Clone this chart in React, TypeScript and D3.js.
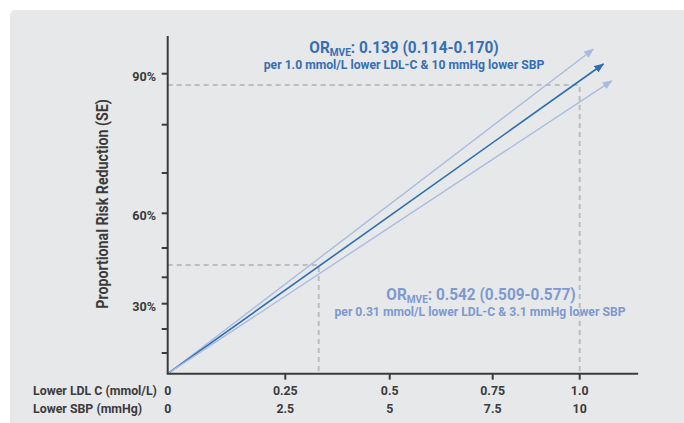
import React from "react";
import * as d3 from "d3";

// ---- data ----
const ldlTicks = [0, 0.25, 0.5, 0.75, 1.0];
const ldlTickLabels = ["0", "0.25", "0.5", "0.75", "1.0"];
const sbpTickLabels = ["0", "2.5", "5", "7.5", "10"];
const rrTicks = [10, 20, 30, 40, 50, 60, 70, 80, 90];
const rrLabeledTicks = [30, 60, 90];
const rrTickLabels = ["30%", "60%", "90%"];

// arrow end points (ldl, risk reduction %), all starting at origin
const arrowNames = ["upper", "central", "lower"];
const arrowLdl = [1.039, 1.068, 1.092];
const arrowRR = [94.8, 91.9, 88.6];

// reference (dashed) points on the central line
const refLdl = [0.33, 1.0];
const refRR = [44.2, 87.8];

const orTop = { value: "0.139", ci: "0.114-0.170", per: "per 1.0 mmol/L lower LDL-C & 10 mmHg lower SBP" };
const orBottom = { value: "0.542", ci: "0.509-0.577", per: "per 0.31 mmol/L lower LDL-C & 3.1 mmHg lower SBP" };

const W = 684;
const H = 423;
const FONT = "Roboto, 'Noto Sans', sans-serif";
const AXIS = "#3b3b3b";
const DARK_BLUE = "#2c6db4";
const LIGHT_BLUE = "#a9bbdf";
const TOP_TEXT = "#356fb3";
const BOTTOM_TEXT = "#7d99cf";
const DASH = "#bdbec1";

export default function App() {
  const x = d3
    .scaleLinear()
    .domain(ldlTicks)
    .range([167.7, 285.3, 389.7, 492.7, 579.7]);
  const y = d3
    .scaleLinear()
    .domain([0, ...rrTicks])
    .range([373.7, 353, 329, 303.7, 277.3, 248, 213.3, 173, 124.7, 73.7]);

  const x0 = x(0);
  const y0 = y(0);
  const xEnd = x(1.168);
  const yTop = y(97.4);

  const line = d3.line<[number, number]>().x((d) => x(d[0])).y((d) => y(d[1]));

  const cText = (
    tx: number,
    ty: number,
    sx: number,
    content: React.ReactNode,
    props: any
  ) => (
    <text
      transform={`translate(${tx},${ty}) scale(${sx},1)`}
      fontFamily={FONT}
      fontWeight={700}
      {...props}
    >
      {content}
    </text>
  );

  return (
    <svg
      width={W}
      height={H}
      style={{ position: "absolute", left: 0, top: 0, background: "#ffffff" }}
    >
      <defs>
        <marker id="arrDark" viewBox="0 0 10 8" refX="9" refY="4" markerWidth="10" markerHeight="8" markerUnits="userSpaceOnUse" orient="auto">
          <path d="M0,0 L10,4 L0,8 Z" fill={DARK_BLUE} />
        </marker>
        <marker id="arrLight" viewBox="0 0 10 8" refX="9" refY="4" markerWidth="10" markerHeight="8" markerUnits="userSpaceOnUse" orient="auto">
          <path d="M0,0 L10,4 L0,8 Z" fill={LIGHT_BLUE} />
        </marker>
      </defs>
      <rect x={10} y={10} width={W} height={H} rx={5} fill="#e7e8ea" />

      {/* dashed reference lines */}
      {refLdl.map((l, i) => (
        <path
          key={"ref" + i}
          d={`M${x0},${y(refRR[i])}H${x(l)}V${y0}`}
          fill="none"
          stroke={DASH}
          strokeWidth={2}
          strokeDasharray="5,4"
        />
      ))}

      {/* arrows */}
      {arrowNames.map((n, i) => (
        <path
          key={n}
          d={line([
            [0, 0],
            [arrowLdl[i], arrowRR[i]],
          ]) || ""}
          fill="none"
          stroke={n === "central" ? DARK_BLUE : LIGHT_BLUE}
          strokeWidth={n === "central" ? 1.6 : 1.4}
          markerEnd={n === "central" ? "url(#arrDark)" : "url(#arrLight)"}
        />
      ))}

      {/* axes */}
      <line x1={x0} x2={x0} y1={yTop} y2={y0} stroke={AXIS} strokeWidth={2} />
      <line x1={x0 - 1} x2={xEnd} y1={y0} y2={y0} stroke={AXIS} strokeWidth={2} />
      {rrTicks.map((t) => (
        <line key={"yt" + t} x1={x0 - 6} x2={x0} y1={y(t)} y2={y(t)} stroke={AXIS} strokeWidth={2} />
      ))}
      {ldlTicks.slice(1).map((t) => (
        <line key={"xt" + t} x1={x(t)} x2={x(t)} y1={y0} y2={y0 + 6} stroke={AXIS} strokeWidth={2} />
      ))}

      {/* y tick labels */}
      {rrLabeledTicks.map((t, i) =>
        cText(156, y(t) + 7, 0.97, rrTickLabels[i], {
          key: "yl" + t,
          textAnchor: "end",
          fontSize: 13,
          fill: AXIS,
        })
      )}

      {/* x tick labels */}
      {ldlTicks.map((t, i) =>
        cText(x(t), 394.5, 0.95, ldlTickLabels[i], { key: "xl1" + i, textAnchor: "middle", fontSize: 13, fill: AXIS })
      )}
      {ldlTicks.map((t, i) =>
        cText(x(t), 412.5, 0.95, sbpTickLabels[i], { key: "xl2" + i, textAnchor: "middle", fontSize: 13, fill: AXIS })
      )}
      {cText(33, 394.5, 0.95, "Lower LDL C (mmol/L)", { textAnchor: "start", fontSize: 13, fill: AXIS })}
      {cText(33, 412.5, 0.95, "Lower SBP (mmHg)", { textAnchor: "start", fontSize: 13, fill: AXIS })}

      {/* y axis title */}
      <text
        transform={`translate(108,204) rotate(-90) scale(0.89,1)`}
        textAnchor="middle"
        fontFamily={FONT}
        fontWeight={700}
        fontSize={16}
        fill={AXIS}
      >
        Proportional Risk Reduction (SE)
      </text>

      {/* top annotation */}
      {cText(
        404,
        52.7,
        0.96,
        <>
          <tspan>OR</tspan>
          <tspan fontSize={10.5} dy={3.3}>MVE</tspan>
          <tspan dy={-3.3}>{`: ${orTop.value} (${orTop.ci})`}</tspan>
        </>,
        { textAnchor: "middle", fontSize: 16, fill: TOP_TEXT }
      )}
      {cText(404, 69.3, 0.975, orTop.per, { textAnchor: "middle", fontSize: 12.5, fill: TOP_TEXT })}

      {/* bottom annotation */}
      {cText(
        481,
        300,
        0.96,
        <>
          <tspan>OR</tspan>
          <tspan fontSize={10.5} dy={3.3}>MVE</tspan>
          <tspan dy={-3.3}>{`: ${orBottom.value} (${orBottom.ci})`}</tspan>
        </>,
        { textAnchor: "middle", fontSize: 16, fill: BOTTOM_TEXT }
      )}
      {cText(480, 315.7, 0.975, orBottom.per, { textAnchor: "middle", fontSize: 12.5, fill: BOTTOM_TEXT })}
    </svg>
  );
}
